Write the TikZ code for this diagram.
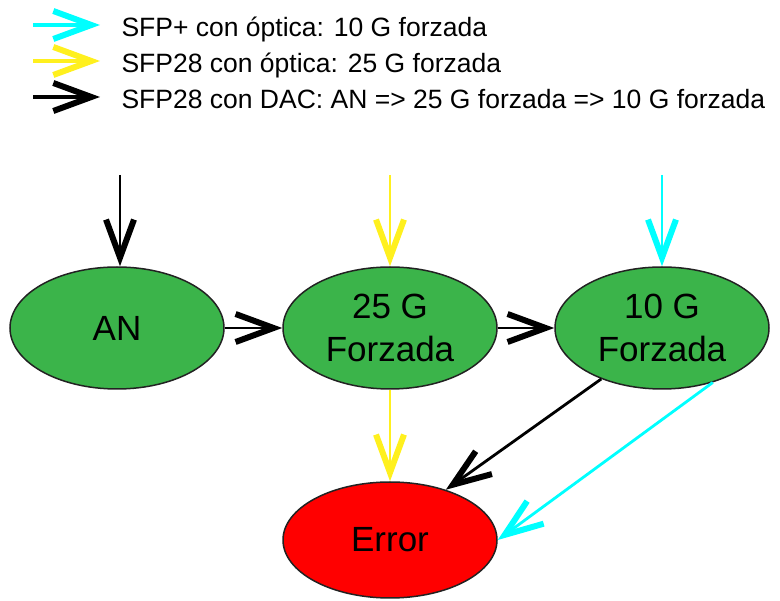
\documentclass[tikz,border=0pt]{standalone}
\usepackage{fontspec}
\setmainfont{Liberation Sans}
\usepackage{tikz}
\usetikzlibrary{arrows.meta,shapes.geometric}
\definecolor{verde}{HTML}{3BB44A}
\definecolor{rojo}{HTML}{FF0000}
\definecolor{cian}{HTML}{00FFFF}
\definecolor{amar}{HTML}{FFF01E}
\definecolor{borde}{HTML}{222222}
\tikzset{
  estado/.style={ellipse,draw=borde,line width=1.5pt,fill=verde,minimum width=214pt,minimum height=122pt,inner sep=0pt,align=center,font=\fontsize{35}{43}\selectfont},
  flecha/.style={-{Straight Barb[length=38pt,width=28pt,line width=6pt]},line width=2.8pt},
  leyenda/.style={anchor=base west,font=\fontsize{26.5}{30}\selectfont},
}
\begin{document}
\begin{tikzpicture}[x=1pt,y=-1pt]
  \useasboundingbox (0,0) rectangle (780,601);
  % leyenda
  \node[leyenda] (l1) at (118,37) {SFP+ con óptica: 10 G forzada};
  \node[leyenda] (l2) at (118,73) {SFP28 con óptica: 25 G forzada};
  \node[leyenda] (l3) at (118,109) {SFP28 con DAC: AN => 25 G forzada => 10 G forzada};
  \coordinate (p1) at (33,25);
  \coordinate (p2) at (33,61);
  \coordinate (p3) at (33,97);
  \draw[flecha,cian,line width=3.5pt] (p1) -- (p1 -| 100,0);
  \draw[flecha,amar,line width=3.5pt] (p2) -- (p2 -| 100,0);
  \draw[flecha,black,line width=3.5pt] (p3) -- (p3 -| 100,0);
  % estados
  \node[estado] (an) at (117,328) {AN};
  \node[estado] (g25) at (390,328) {25 G\\Forzada};
  \node[estado] (g10) at (662,328) {10 G\\Forzada};
  \node[estado,fill=rojo,minimum height=116pt] (err) at (390,540) {Error};
  \coordinate (e1) at (120,175);
  \coordinate (e2) at (390,175);
  \coordinate (e3) at (662,175);
  \draw[flecha,black] (e1) -- (an.north -| e1);
  \draw[flecha,amar] (e2) -- (g25.north);
  \draw[flecha,cian] (e3) -- (g10.north);
  \draw[flecha,black] (an) -- (g25);
  \draw[flecha,black] (g25) -- (g10);
  \draw[flecha,amar] (g25) -- (err);
  \draw[flecha,black] (g10.220) -- (err.42);
  \draw[flecha,cian] (g10.313) -- (err.east);
\end{tikzpicture}
\end{document}
